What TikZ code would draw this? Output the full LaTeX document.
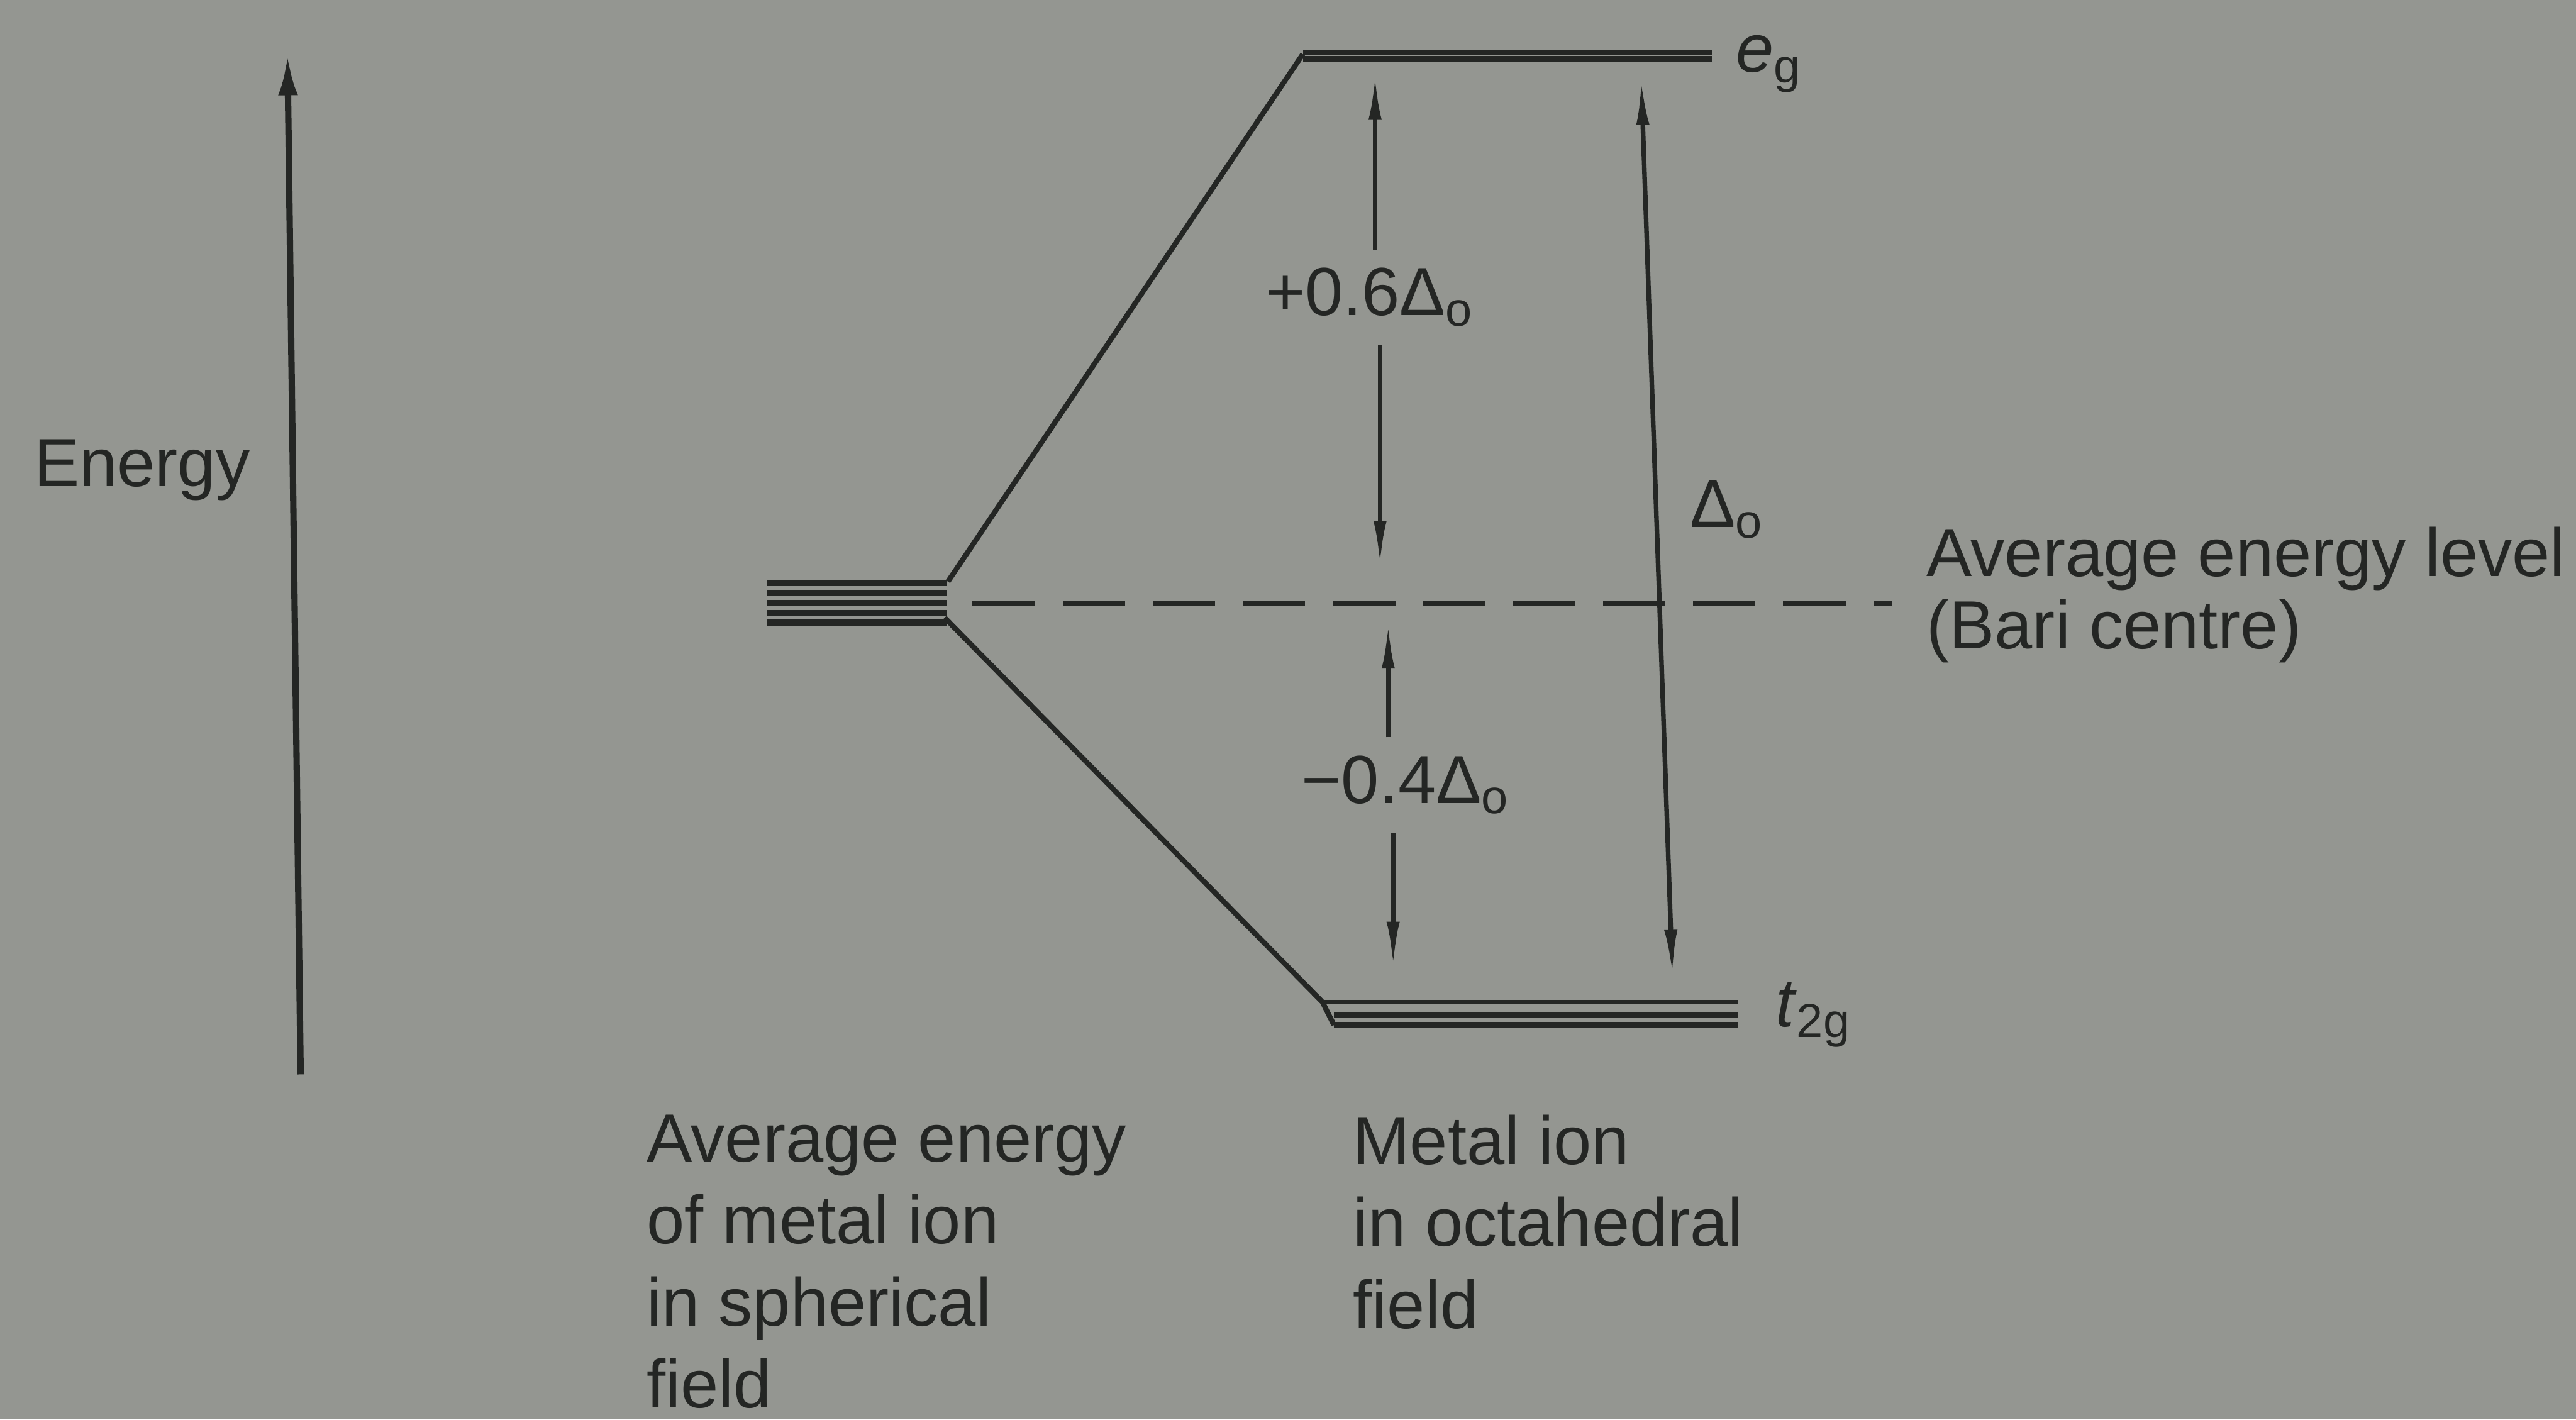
\documentclass[tikz,border=0pt]{standalone}
\usepackage{fontspec}
\setmainfont{Liberation Sans}
\usetikzlibrary{arrows.meta}
\definecolor{paper}{RGB}{148,150,145}
\definecolor{ink}{RGB}{36,38,36}
\begin{document}
\begin{tikzpicture}[x=0.1mm,y=-0.1mm,color=ink,
  font=\fontsize{11.8}{14.2}\selectfont,
  orbital/.style={line width=1pt},
  split/.style={line width=0.9pt},
  gap/.style={line width=0.8pt,-{Latex[length=2.8mm,width=0.8mm]}},
  lbl/.style={inner sep=0pt},
  val/.style={inner xsep=0pt,inner ysep=3pt,anchor=base}]
 \fill[paper] (0,0) rectangle (1568,864);
 \coordinate (axis-b) at (183,654);
 \coordinate (axis-t) at (175,33);
 \draw[line width=1.1pt,-{Latex[length=2.5mm,width=1.2mm]}] (axis-b) -- (axis-t);
 \node[lbl,anchor=base west] (energy) at (20,296) {Energy};
 \foreach \dy in {0,6,...,24}
   \draw[orbital] (467,355+\dy) -- (576,355+\dy);
 \foreach \dy in {0,4}
   \draw[orbital] (793,32+\dy) -- (1042,32+\dy);
 \draw[orbital,line width=0.8pt] (805,610) -- (1058,610);
 \foreach \dy in {0,6}
   \draw[orbital] (812,618+\dy) -- (1058,618+\dy);
 \coordinate (sph-t) at (577,354);
 \coordinate (sph-b) at (575,376);
 \coordinate (eg) at (793,33);
 \coordinate (tg-t) at (805,610);
 \coordinate (tg-b) at (812,624);
 \draw[split] (sph-t) -- (eg);
 \draw[split] (sph-b) -- (tg-t) -- (tg-b);
 \coordinate (bary-l) at (592,367);
 \coordinate (bary-r) at (1152,367);
 \draw[line width=0.9pt,dash pattern=on 10.8pt off 4.8pt] (bary-l) -- (bary-r);
 \node[lbl,anchor=base west] (eg-lbl) at (1056,44) {\textit{e}\textsubscript{g}};
 \node[lbl,anchor=base west] (tg-lbl) at (1080,625) {\textit{t}\textsubscript{2g}};
 \node[val] (up) at (834,192) {+0.6Δ\textsubscript{o}};
 \node[val] (dn) at (856,489) {−0.4Δ\textsubscript{o}};
 \coordinate (up-t) at (837,45);
 \coordinate (up-b) at (840,345);
 \coordinate (dn-t) at (845,379);
 \coordinate (dn-b) at (848,589);
 \draw[gap] (up-t |- up.north) -- (up-t);
 \draw[gap] (up-b |- up.south) -- (up-b);
 \draw[gap] (dn-t |- dn.north) -- (dn-t);
 \draw[gap] (dn-b |- dn.south) -- (dn-b);
 \coordinate (d-t) at (999,48);
 \coordinate (d-b) at (1018,594);
 \draw[gap,{Latex[length=2.8mm,width=0.8mm]}-{Latex[length=2.8mm,width=0.8mm]}] (d-b) -- (d-t);
 \node[lbl,anchor=base west] (d-lbl) at (1028,321) {Δ\textsubscript{o}};
 \node[lbl,anchor=north west,align=left,font=\fontsize{11.8}{12.5}\selectfont] (bary-lbl) at (1172,320) {Average energy level\\(Bari centre)};
 \node[lbl,anchor=north west,align=left] (sph-lbl) at (393,678) {Average energy\\of metal ion\\in spherical\\field};
 \node[lbl,anchor=north west,align=left] (oct-lbl) at (823,678) {Metal ion\\in octahedral\\field};
\end{tikzpicture}
\end{document}
